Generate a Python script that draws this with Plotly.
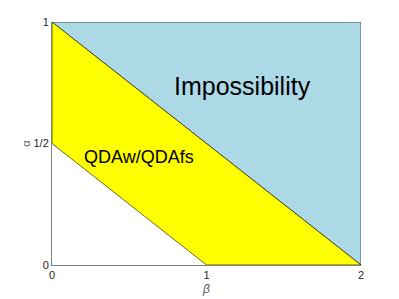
import plotly.graph_objects as go

# region polygons (beta, alpha)
blue_x = [0, 2, 2, 0]
blue_y = [1, 1, 0, 1]
yellow_x = [0, 0, 2, 1, 0]
yellow_y = [0.5, 1, 0, 0, 0.5]
xticks = [0, 1, 2]
xtick_text = ["0", "1", "2"]
yticks = [0, 0.5, 1]
ytick_text = ["0", "1/2", "1"]
labels = ["Impossibility", "QDAw/QDAfs"]
label_x = [1.23, 0.56]
label_y = [0.735, 0.445]

fig = go.Figure()
fig.add_trace(go.Scatter(x=blue_x, y=blue_y, fill="toself", fillcolor="#add8e6",
                         mode="lines", line=dict(color="#000000", width=0.6),
                         hoverinfo="skip", showlegend=False))
fig.add_trace(go.Scatter(x=yellow_x, y=yellow_y, fill="toself", fillcolor="#ffff00",
                         mode="lines", line=dict(color="#000000", width=0.6),
                         hoverinfo="skip", showlegend=False))

fig.add_annotation(x=label_x[0], y=label_y[0], text=labels[0], showarrow=False,
                   font=dict(family="Liberation Sans, Arial", size=25, color="#000000"))
fig.add_annotation(x=label_x[1], y=label_y[1], text=labels[1], showarrow=False,
                   font=dict(family="Liberation Sans, Arial", size=18, color="#000000"))

fig.update_layout(
    width=399, height=299,
    margin=dict(l=52, r=38, t=22, b=34),
    paper_bgcolor="white", plot_bgcolor="white",
    font=dict(family="Liberation Sans, Arial", size=11, color="#262626"),
    xaxis=dict(range=[0, 2], tickvals=xticks, ticktext=xtick_text, showgrid=False,
               zeroline=False, showline=True, linecolor="#808080", linewidth=1,
               ticks="", ticklen=0, automargin=False,
               tickfont=dict(color="#262626"),
               title=dict(text="<i>β</i>", standoff=4, font=dict(size=12, color="#595959"))),
    yaxis=dict(range=[0, 1], tickvals=yticks, ticktext=ytick_text, showgrid=False,
               zeroline=False, showline=True, linecolor="#808080", linewidth=1,
               ticks="", ticklen=0, automargin=False,
               tickfont=dict(color="#262626"),
               title=dict(text="α", standoff=0, font=dict(size=11, color="#595959"))),
)

fig.write_html("out.html", config={"displayModeBar": False},
               post_script="document.body.style.margin='0';")
